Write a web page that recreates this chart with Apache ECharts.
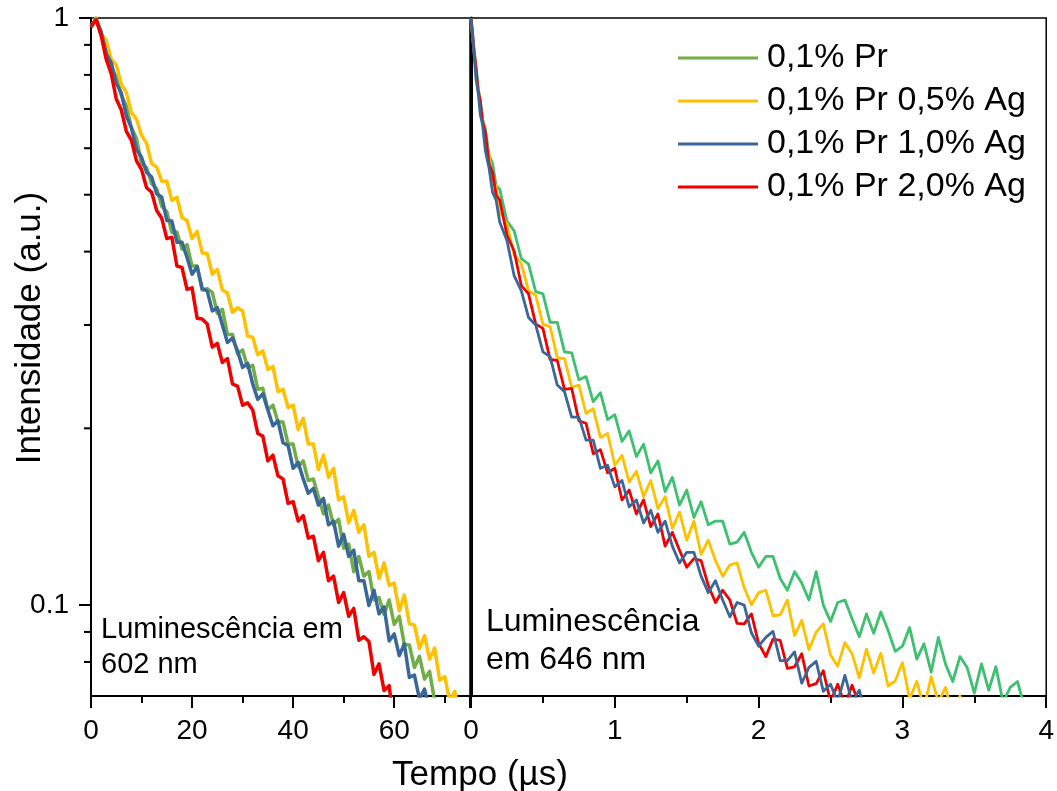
<!DOCTYPE html>
<html><head><meta charset="utf-8">
<script src="https://cdn.jsdelivr.net/npm/echarts@6/dist/echarts.min.js"></script>
<style>html,body{margin:0;padding:0;background:#fff}#c{width:1057px;height:791px}</style>
</head><body><div id="c"></div>
<script>
const FONT = '"Liberation Sans", Arial, sans-serif';
const seriesNames = ['0,1% Pr', '0,1% Pr 0,5% Ag', '0,1% Pr 1,0% Ag', '0,1% Pr 2,0% Ag'];

// Left panel — 602 nm
const leftX = [0,1,2,3,4,5,6,7,8,9,10,11,12,13,14,15,16,17,18,19,20,21,22,23,24,25,26,27,28,29,30,31,32,33,34,35,36,37,38,39,40,41,42,43,44,45,46,47,48,49,50,51,52,53,54,55,56,57,58,59,60,61,62,63,64,65,66,67,68,69,70,71,72,73,74,75];
const leftGreen = [0.966,1.0,0.935,0.897,0.824,0.794,0.738,0.708,0.650,0.624,0.565,0.556,0.522,0.512,0.478,0.468,0.431,0.432,0.404,0.411,0.378,0.378,0.344,0.346,0.341,0.314,0.319,0.289,0.289,0.268,0.272,0.254,0.256,0.233,0.234,0.215,0.219,0.205,0.205,0.188,0.188,0.172,0.176,0.163,0.164,0.153,0.143,0.148,0.137,0.140,0.125,0.127,0.114,0.121,0.112,0.114,0.102,0.103,0.0964,0.102,0.0927,0.0957,0.0857,0.0855,0.0783,0.0818,0.0748,0.0771,0.0686,0.0690,0.0628];
const leftYellow = [0.966,1.0,0.940,0.916,0.851,0.832,0.771,0.746,0.690,0.673,0.631,0.612,0.565,0.557,0.527,0.527,0.489,0.495,0.457,0.452,0.421,0.433,0.398,0.397,0.366,0.373,0.344,0.340,0.315,0.321,0.317,0.287,0.286,0.267,0.271,0.252,0.255,0.231,0.233,0.217,0.219,0.199,0.208,0.188,0.188,0.170,0.180,0.165,0.171,0.151,0.153,0.138,0.145,0.133,0.137,0.121,0.123,0.111,0.118,0.108,0.109,0.0977,0.104,0.0929,0.0925,0.0843,0.0887,0.0809,0.0845,0.0745,0.0755,0.0686,0.0713,0.0632,0.0659,0.0615];
const leftBlue = [0.966,0.995,0.948,0.871,0.839,0.774,0.745,0.681,0.650,0.597,0.579,0.546,0.536,0.502,0.495,0.452,0.451,0.415,0.415,0.391,0.366,0.377,0.346,0.343,0.317,0.321,0.300,0.280,0.285,0.271,0.254,0.258,0.238,0.224,0.229,0.215,0.202,0.206,0.189,0.187,0.171,0.175,0.164,0.155,0.158,0.148,0.152,0.137,0.139,0.126,0.132,0.121,0.124,0.110,0.110,0.0998,0.106,0.0966,0.0993,0.0869,0.0893,0.0820,0.0859,0.0753,0.0760,0.0692,0.0719,0.0661,0.0676,0.0610];
const leftRed = [0.966,0.993,0.935,0.851,0.804,0.728,0.697,0.641,0.619,0.571,0.552,0.514,0.505,0.470,0.456,0.421,0.423,0.378,0.376,0.345,0.347,0.308,0.307,0.301,0.275,0.279,0.259,0.263,0.238,0.236,0.219,0.221,0.215,0.196,0.194,0.176,0.180,0.166,0.164,0.149,0.150,0.139,0.142,0.130,0.131,0.119,0.123,0.110,0.112,0.101,0.105,0.0957,0.0987,0.0871,0.0883,0.0867,0.0762,0.0794,0.0715,0.0729,0.0619,0.0652,0.0575,0.0581];

// Right panel — 646 nm
const rightX = [0,0.01,0.02,0.035,0.05,0.065,0.08,0.1,0.125,0.15,0.175,0.2,0.25,0.3,0.35,0.4,0.45,0.5,0.55,0.6,0.65,0.7,0.75,0.8,0.85,0.9,0.95,1.0,1.05,1.1,1.15,1.2,1.25,1.3,1.35,1.4,1.45,1.5,1.55,1.6,1.65,1.7,1.75,1.8,1.85,1.9,1.95,2.0,2.05,2.1,2.15,2.2,2.25,2.3,2.35,2.4,2.45,2.5,2.55,2.6,2.65,2.7,2.75,2.8,2.85,2.9,2.95,3.0,3.05,3.1,3.15,3.2,3.25,3.3,3.35,3.4,3.45,3.5,3.55,3.6,3.65,3.7,3.75,3.8,3.85,3.9];
const rightGreen = [1.0,0.948,0.889,0.828,0.760,0.724,0.673,0.647,0.585,0.565,0.518,0.511,0.451,0.434,0.389,0.381,0.342,0.339,0.303,0.303,0.270,0.269,0.242,0.245,0.222,0.230,0.207,0.211,0.190,0.198,0.179,0.188,0.168,0.176,0.156,0.165,0.148,0.157,0.141,0.150,0.137,0.139,0.139,0.127,0.128,0.133,0.123,0.116,0.121,0.121,0.111,0.106,0.114,0.109,0.102,0.114,0.100,0.0938,0.101,0.102,0.0948,0.0883,0.0966,0.0895,0.0973,0.0906,0.0834,0.0851,0.0916,0.0809,0.0859,0.0769,0.0881,0.0793,0.0741,0.0817,0.0783,0.0708,0.0794,0.0716,0.0785,0.0684,0.0724,0.0741,0.0668];
const rightYellow = [1.0,0.933,0.887,0.796,0.764,0.700,0.678,0.617,0.585,0.530,0.516,0.468,0.446,0.394,0.382,0.343,0.337,0.301,0.298,0.264,0.263,0.235,0.237,0.212,0.216,0.193,0.196,0.173,0.180,0.162,0.169,0.153,0.163,0.146,0.153,0.135,0.144,0.129,0.139,0.122,0.129,0.119,0.112,0.117,0.118,0.107,0.100,0.105,0.106,0.0959,0.0962,0.102,0.0887,0.0942,0.0839,0.0899,0.0929,0.0822,0.0787,0.0863,0.0826,0.0752,0.0841,0.0766,0.0828,0.0728,0.0743,0.0798,0.0692,0.0741,0.0668,0.0755,0.0684,0.0724,0.0646,0.0700,0.0661];
const rightBlue = [1.0,0.933,0.877,0.787,0.746,0.684,0.659,0.594,0.556,0.505,0.489,0.449,0.418,0.364,0.343,0.309,0.300,0.270,0.265,0.237,0.231,0.209,0.209,0.191,0.191,0.171,0.173,0.159,0.163,0.147,0.151,0.138,0.145,0.133,0.139,0.126,0.118,0.123,0.123,0.112,0.105,0.110,0.102,0.0955,0.101,0.100,0.0897,0.0851,0.0881,0.0902,0.0804,0.0804,0.0832,0.0736,0.0783,0.0802,0.0713,0.0733,0.0684,0.0759,0.0684,0.0716,0.0646];
const rightRed = [1.0,0.948,0.885,0.820,0.750,0.721,0.667,0.638,0.565,0.545,0.499,0.490,0.427,0.401,0.350,0.339,0.301,0.296,0.262,0.261,0.233,0.234,0.206,0.204,0.181,0.184,0.168,0.171,0.151,0.157,0.143,0.151,0.136,0.143,0.126,0.133,0.124,0.116,0.120,0.119,0.108,0.101,0.106,0.102,0.0931,0.0929,0.0966,0.0861,0.0817,0.0875,0.0871,0.0780,0.0785,0.0826,0.0728,0.0735,0.0773,0.0684,0.0733,0.0676,0.0730,0.0676,0.0638];

// Axes
const yMin = 0.07, yMax = 1;
const yMinorTicks = [0.08, 0.09, 0.2, 0.3, 0.4, 0.5, 0.6, 0.7, 0.8, 0.9];
const leftXRange = [0, 75], leftXInterval = 20;
const rightXRange = [0, 4], rightXInterval = 1;

const colors = { green: '#70AD47', greenR: '#3DC06F', yellow: '#FFC000', blue: '#3A679A', red: '#F20000' };

function zip(xs, ys) { return ys.map((v, i) => [xs[i], v]); }
function lineSeries(name, xs, ys, color, idx, width) {
  return { name, type: 'line', xAxisIndex: idx, yAxisIndex: idx, data: zip(xs, ys),
    showSymbol: false, symbol: 'none', clip: true, color,
    lineStyle: { color, width, join: 'round' }, emphasis: { disabled: true } };
}

const xAxisCommon = (i, range, interval) => ({
  type: 'value', gridIndex: i, min: range[0], max: range[1], interval,
  axisLine: { show: true, onZero: false, lineStyle: { color: '#000', width: 2 } },
  axisTick: { show: true, length: 12, lineStyle: { color: '#000', width: 2 } },
  minorTick: { show: true, splitNumber: 2, length: 7, lineStyle: { color: '#000', width: 2 } },
  splitLine: { show: false },
  axisLabel: { fontSize: 28, color: '#000', fontFamily: FONT, margin: 21, showMaxLabel: i === 1 }
});

const chart = echarts.init(document.getElementById('c'), null, { renderer: 'canvas' });
const option = {
  animation: false,
  backgroundColor: '#fff',
  grid: [
    { left: 91, top: 18, width: 379, height: 678, show: true, borderColor: '#000', borderWidth: 1.5, backgroundColor: 'transparent' },
    { left: 471, top: 18, width: 577, height: 678, show: true, borderColor: '#000', borderWidth: 1.5, backgroundColor: 'transparent' }
  ],
  xAxis: [ xAxisCommon(0, leftXRange, leftXInterval), xAxisCommon(1, rightXRange, rightXInterval) ],
  yAxis: [
    { type: 'log', logBase: 10, gridIndex: 0, min: yMin, max: yMax,
      axisLine: { show: true, lineStyle: { color: '#000', width: 2 } },
      axisTick: { show: true, length: 12, lineStyle: { color: '#000', width: 2 } },
      splitLine: { show: false },
      axisLabel: { fontSize: 28, color: '#000', fontFamily: FONT, margin: 22, showMinLabel: false } },
    { type: 'log', logBase: 10, gridIndex: 1, min: yMin, max: yMax,
      axisLine: { show: true, lineStyle: { color: '#000', width: 3 } },
      axisTick: { show: false }, splitLine: { show: false }, axisLabel: { show: false } }
  ],
  legend: {
    orient: 'vertical', left: 673, top: 33, itemWidth: 80, itemHeight: 3, icon: 'rect', itemGap: 3,
    data: seriesNames,
    textStyle: { fontSize: 34, lineHeight: 40, color: '#000', fontFamily: FONT, padding: [0, 0, 0, 4] }
  },
  series: [
    lineSeries(seriesNames[0], leftX, leftGreen, colors.green, 0, 3.5),
    lineSeries(seriesNames[1], leftX, leftYellow, colors.yellow, 0, 3.5),
    lineSeries(seriesNames[2], leftX, leftBlue, colors.blue, 0, 3.5),
    lineSeries(seriesNames[3], leftX, leftRed, colors.red, 0, 3.5),
    lineSeries(seriesNames[0], rightX, rightGreen, colors.greenR, 1, 2.8),
    lineSeries(seriesNames[1], rightX, rightYellow, colors.yellow, 1, 2.8),
    lineSeries(seriesNames[3], rightX, rightRed, colors.red, 1, 2.8),
    lineSeries(seriesNames[2], rightX, rightBlue, colors.blue, 1, 2.8)
  ]
};
chart.setOption(option);

// Minor ticks on the log y axis, placed through the axis' own scale
const graphics = [];
yMinorTicks.forEach(v => {
  const p = chart.convertToPixel({ xAxisIndex: 0, yAxisIndex: 0 }, [0, v]);
  graphics.push({ type: 'line', z: 10, shape: { x1: p[0] - 7, y1: p[1], x2: p[0], y2: p[1] }, style: { stroke: '#000', lineWidth: 2 } });
});
graphics.push(
  { type: 'text', z: 10, x: 30, y: 328, rotation: Math.PI / 2,
    style: { text: 'Intensidade (a.u.)', fontSize: 35, fontFamily: FONT, fill: '#000', align: 'center', verticalAlign: 'middle' } },
  { type: 'text', z: 10, x: 480, y: 775,
    style: { text: 'Tempo (µs)', fontSize: 35, fontFamily: FONT, fill: '#000', align: 'center', verticalAlign: 'middle' } },
  { type: 'text', z: 10, x: 101, y: 612,
    style: { text: 'Luminescência em\n602 nm', fontSize: 29, lineHeight: 35, fontFamily: FONT, fill: '#000', align: 'left', verticalAlign: 'top' } },
  { type: 'text', z: 10, x: 486, y: 603,
    style: { text: 'Luminescência\nem 646 nm', fontSize: 32, lineHeight: 38, fontFamily: FONT, fill: '#000', align: 'left', verticalAlign: 'top' } }
);
chart.setOption({ graphic: graphics });
</script>
</body></html>
